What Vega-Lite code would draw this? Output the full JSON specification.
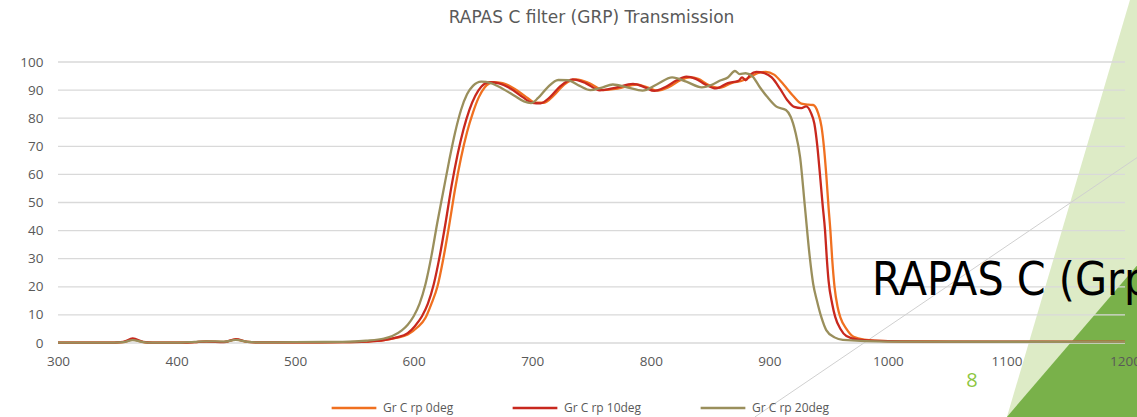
{
  "$schema": "https://vega.github.io/schema/vega-lite/v6.json",
  "autosize": {"type": "none"},
  "width": 1067,
  "height": 281,
  "padding": {"left": 58, "top": 62, "right": 12, "bottom": 74},
  "background": "white",
  "title": {"text": "RAPAS C filter (GRP) Transmission", "frame": "group", "fontSize": 17, "font": "DejaVu Sans", "fontWeight": "normal", "color": "#595959", "offset": -27, "anchor": "middle"},
  "config": {
    "view": {"stroke": null},
    "font": "Open Sans",
    "axis": {"labelFontSize": 13.5, "labelColor": "#595959", "labelFont": "Open Sans", "grid": false, "domain": false, "ticks": false, "labelOverlap": false, "title": null, "zindex": 1}
  },
  "datasets": {
    "deco_light": [{"T": 122.1, "wl": 1204.2, "wl2": 1212}, {"T": -26.3, "wl": 1100.4, "wl2": 1212}],
    "deco_dark": [{"T": -26.3, "wl": 1100.4, "wl2": 1212}, {"T": 28.5, "wl": 1212, "wl2": 1212}],
    "deco_line": [{"wl": 887.9, "T": -26.3}, {"wl": 1212, "T": 66.5}],
    "deco_text": [{"wl": 986.5, "T": 22.2, "label": "RAPAS C (Grp)"}],
    "deco_num": [{"wl": 1071, "T": -13.5, "label": "8"}],
    "gridv": [{"T": 0}, {"T": 10}, {"T": 20}, {"T": 30}, {"T": 40}, {"T": 50}, {"T": 60}, {"T": 70}, {"T": 80}, {"T": 90}, {"T": 100}],
    "curves": [
      {"series": "Gr C rp 0deg", "wl": 300, "T": 0.1},
      {"series": "Gr C rp 0deg", "wl": 340, "T": 0.1},
      {"series": "Gr C rp 0deg", "wl": 355, "T": 0.3},
      {"series": "Gr C rp 0deg", "wl": 363, "T": 1.2},
      {"series": "Gr C rp 0deg", "wl": 372, "T": 0.3},
      {"series": "Gr C rp 0deg", "wl": 380, "T": 0.1},
      {"series": "Gr C rp 0deg", "wl": 400, "T": 0.1},
      {"series": "Gr C rp 0deg", "wl": 415, "T": 0.3},
      {"series": "Gr C rp 0deg", "wl": 425, "T": 0.6},
      {"series": "Gr C rp 0deg", "wl": 440, "T": 0.4},
      {"series": "Gr C rp 0deg", "wl": 450, "T": 1.2},
      {"series": "Gr C rp 0deg", "wl": 460, "T": 0.4},
      {"series": "Gr C rp 0deg", "wl": 470, "T": 0.2},
      {"series": "Gr C rp 0deg", "wl": 500, "T": 0.2},
      {"series": "Gr C rp 0deg", "wl": 540, "T": 0.3},
      {"series": "Gr C rp 0deg", "wl": 560, "T": 0.5},
      {"series": "Gr C rp 0deg", "wl": 575, "T": 1.0},
      {"series": "Gr C rp 0deg", "wl": 585, "T": 1.8},
      {"series": "Gr C rp 0deg", "wl": 595, "T": 3.0},
      {"series": "Gr C rp 0deg", "wl": 603, "T": 5.5},
      {"series": "Gr C rp 0deg", "wl": 610, "T": 9},
      {"series": "Gr C rp 0deg", "wl": 615, "T": 14},
      {"series": "Gr C rp 0deg", "wl": 620, "T": 20},
      {"series": "Gr C rp 0deg", "wl": 625, "T": 30},
      {"series": "Gr C rp 0deg", "wl": 630, "T": 42},
      {"series": "Gr C rp 0deg", "wl": 635, "T": 55},
      {"series": "Gr C rp 0deg", "wl": 640, "T": 66},
      {"series": "Gr C rp 0deg", "wl": 645, "T": 75},
      {"series": "Gr C rp 0deg", "wl": 650, "T": 82},
      {"series": "Gr C rp 0deg", "wl": 655, "T": 87.5},
      {"series": "Gr C rp 0deg", "wl": 660, "T": 91},
      {"series": "Gr C rp 0deg", "wl": 667, "T": 92.8},
      {"series": "Gr C rp 0deg", "wl": 675, "T": 92.5},
      {"series": "Gr C rp 0deg", "wl": 685, "T": 90.5},
      {"series": "Gr C rp 0deg", "wl": 695, "T": 87.5},
      {"series": "Gr C rp 0deg", "wl": 703, "T": 85.5},
      {"series": "Gr C rp 0deg", "wl": 710, "T": 85.5},
      {"series": "Gr C rp 0deg", "wl": 718, "T": 88},
      {"series": "Gr C rp 0deg", "wl": 727, "T": 92},
      {"series": "Gr C rp 0deg", "wl": 737, "T": 93.8},
      {"series": "Gr C rp 0deg", "wl": 748, "T": 92.5},
      {"series": "Gr C rp 0deg", "wl": 760, "T": 90},
      {"series": "Gr C rp 0deg", "wl": 772, "T": 90.5},
      {"series": "Gr C rp 0deg", "wl": 788, "T": 92},
      {"series": "Gr C rp 0deg", "wl": 797, "T": 91},
      {"series": "Gr C rp 0deg", "wl": 806, "T": 89.8},
      {"series": "Gr C rp 0deg", "wl": 815, "T": 91},
      {"series": "Gr C rp 0deg", "wl": 825, "T": 93.5},
      {"series": "Gr C rp 0deg", "wl": 833, "T": 94.5},
      {"series": "Gr C rp 0deg", "wl": 840, "T": 94},
      {"series": "Gr C rp 0deg", "wl": 848, "T": 92},
      {"series": "Gr C rp 0deg", "wl": 858, "T": 90.8},
      {"series": "Gr C rp 0deg", "wl": 868, "T": 92.5},
      {"series": "Gr C rp 0deg", "wl": 878, "T": 93.5},
      {"series": "Gr C rp 0deg", "wl": 883, "T": 94.5},
      {"series": "Gr C rp 0deg", "wl": 890, "T": 96},
      {"series": "Gr C rp 0deg", "wl": 897, "T": 96.5},
      {"series": "Gr C rp 0deg", "wl": 904, "T": 95.5},
      {"series": "Gr C rp 0deg", "wl": 912, "T": 92},
      {"series": "Gr C rp 0deg", "wl": 920, "T": 88},
      {"series": "Gr C rp 0deg", "wl": 927, "T": 85.2},
      {"series": "Gr C rp 0deg", "wl": 933, "T": 84.8},
      {"series": "Gr C rp 0deg", "wl": 937, "T": 84.7},
      {"series": "Gr C rp 0deg", "wl": 941, "T": 82},
      {"series": "Gr C rp 0deg", "wl": 944, "T": 77},
      {"series": "Gr C rp 0deg", "wl": 946, "T": 70},
      {"series": "Gr C rp 0deg", "wl": 948, "T": 60},
      {"series": "Gr C rp 0deg", "wl": 950, "T": 48},
      {"series": "Gr C rp 0deg", "wl": 951.5, "T": 40},
      {"series": "Gr C rp 0deg", "wl": 953, "T": 30},
      {"series": "Gr C rp 0deg", "wl": 955, "T": 20},
      {"series": "Gr C rp 0deg", "wl": 957.5, "T": 13},
      {"series": "Gr C rp 0deg", "wl": 960, "T": 9},
      {"series": "Gr C rp 0deg", "wl": 965, "T": 5},
      {"series": "Gr C rp 0deg", "wl": 971, "T": 2.2},
      {"series": "Gr C rp 0deg", "wl": 980, "T": 1.2},
      {"series": "Gr C rp 0deg", "wl": 1000, "T": 0.7},
      {"series": "Gr C rp 0deg", "wl": 1050, "T": 0.5},
      {"series": "Gr C rp 0deg", "wl": 1100, "T": 0.4},
      {"series": "Gr C rp 0deg", "wl": 1200, "T": 0.4},

      {"series": "Gr C rp 10deg", "wl": 300, "T": 0.1},
      {"series": "Gr C rp 10deg", "wl": 340, "T": 0.1},
      {"series": "Gr C rp 10deg", "wl": 355, "T": 0.4},
      {"series": "Gr C rp 10deg", "wl": 363, "T": 1.6},
      {"series": "Gr C rp 10deg", "wl": 372, "T": 0.4},
      {"series": "Gr C rp 10deg", "wl": 380, "T": 0.1},
      {"series": "Gr C rp 10deg", "wl": 400, "T": 0.1},
      {"series": "Gr C rp 10deg", "wl": 415, "T": 0.3},
      {"series": "Gr C rp 10deg", "wl": 425, "T": 0.5},
      {"series": "Gr C rp 10deg", "wl": 440, "T": 0.3},
      {"series": "Gr C rp 10deg", "wl": 450, "T": 1.4},
      {"series": "Gr C rp 10deg", "wl": 460, "T": 0.4},
      {"series": "Gr C rp 10deg", "wl": 470, "T": 0.2},
      {"series": "Gr C rp 10deg", "wl": 500, "T": 0.2},
      {"series": "Gr C rp 10deg", "wl": 540, "T": 0.3},
      {"series": "Gr C rp 10deg", "wl": 560, "T": 0.5},
      {"series": "Gr C rp 10deg", "wl": 575, "T": 1.0},
      {"series": "Gr C rp 10deg", "wl": 585, "T": 1.9},
      {"series": "Gr C rp 10deg", "wl": 595, "T": 3.5},
      {"series": "Gr C rp 10deg", "wl": 601, "T": 6},
      {"series": "Gr C rp 10deg", "wl": 607, "T": 9.5},
      {"series": "Gr C rp 10deg", "wl": 612, "T": 14},
      {"series": "Gr C rp 10deg", "wl": 617, "T": 21},
      {"series": "Gr C rp 10deg", "wl": 622, "T": 31},
      {"series": "Gr C rp 10deg", "wl": 627, "T": 43},
      {"series": "Gr C rp 10deg", "wl": 632, "T": 56},
      {"series": "Gr C rp 10deg", "wl": 637, "T": 67},
      {"series": "Gr C rp 10deg", "wl": 642, "T": 76},
      {"series": "Gr C rp 10deg", "wl": 647, "T": 83},
      {"series": "Gr C rp 10deg", "wl": 652, "T": 88},
      {"series": "Gr C rp 10deg", "wl": 657, "T": 91.2},
      {"series": "Gr C rp 10deg", "wl": 664, "T": 92.8},
      {"series": "Gr C rp 10deg", "wl": 672, "T": 92.4},
      {"series": "Gr C rp 10deg", "wl": 682, "T": 90.5},
      {"series": "Gr C rp 10deg", "wl": 692, "T": 87.5},
      {"series": "Gr C rp 10deg", "wl": 700, "T": 85.5},
      {"series": "Gr C rp 10deg", "wl": 707, "T": 85.3},
      {"series": "Gr C rp 10deg", "wl": 715, "T": 87.5},
      {"series": "Gr C rp 10deg", "wl": 724, "T": 91.5},
      {"series": "Gr C rp 10deg", "wl": 734, "T": 93.8},
      {"series": "Gr C rp 10deg", "wl": 745, "T": 92.5},
      {"series": "Gr C rp 10deg", "wl": 757, "T": 89.9},
      {"series": "Gr C rp 10deg", "wl": 770, "T": 90.8},
      {"series": "Gr C rp 10deg", "wl": 785, "T": 92.2},
      {"series": "Gr C rp 10deg", "wl": 795, "T": 91},
      {"series": "Gr C rp 10deg", "wl": 803, "T": 89.7},
      {"series": "Gr C rp 10deg", "wl": 812, "T": 91},
      {"series": "Gr C rp 10deg", "wl": 822, "T": 93.5},
      {"series": "Gr C rp 10deg", "wl": 830, "T": 94.8},
      {"series": "Gr C rp 10deg", "wl": 838, "T": 94},
      {"series": "Gr C rp 10deg", "wl": 846, "T": 92},
      {"series": "Gr C rp 10deg", "wl": 855, "T": 90.6},
      {"series": "Gr C rp 10deg", "wl": 865, "T": 92.5},
      {"series": "Gr C rp 10deg", "wl": 874, "T": 93.3},
      {"series": "Gr C rp 10deg", "wl": 877, "T": 94.5},
      {"series": "Gr C rp 10deg", "wl": 880, "T": 93.5},
      {"series": "Gr C rp 10deg", "wl": 884, "T": 95.5},
      {"series": "Gr C rp 10deg", "wl": 889, "T": 96.5},
      {"series": "Gr C rp 10deg", "wl": 896, "T": 96},
      {"series": "Gr C rp 10deg", "wl": 902, "T": 94.5},
      {"series": "Gr C rp 10deg", "wl": 909, "T": 90.5},
      {"series": "Gr C rp 10deg", "wl": 915, "T": 86.5},
      {"series": "Gr C rp 10deg", "wl": 921, "T": 84},
      {"series": "Gr C rp 10deg", "wl": 927, "T": 83.6},
      {"series": "Gr C rp 10deg", "wl": 931, "T": 84.2},
      {"series": "Gr C rp 10deg", "wl": 935, "T": 82},
      {"series": "Gr C rp 10deg", "wl": 938, "T": 78},
      {"series": "Gr C rp 10deg", "wl": 940.5, "T": 70},
      {"series": "Gr C rp 10deg", "wl": 942.7, "T": 60},
      {"series": "Gr C rp 10deg", "wl": 945, "T": 49},
      {"series": "Gr C rp 10deg", "wl": 947, "T": 40},
      {"series": "Gr C rp 10deg", "wl": 948.5, "T": 30},
      {"series": "Gr C rp 10deg", "wl": 950, "T": 22},
      {"series": "Gr C rp 10deg", "wl": 953, "T": 14},
      {"series": "Gr C rp 10deg", "wl": 955.5, "T": 9.4},
      {"series": "Gr C rp 10deg", "wl": 960, "T": 5},
      {"series": "Gr C rp 10deg", "wl": 965, "T": 2.5},
      {"series": "Gr C rp 10deg", "wl": 975, "T": 1.2},
      {"series": "Gr C rp 10deg", "wl": 1000, "T": 0.7},
      {"series": "Gr C rp 10deg", "wl": 1050, "T": 0.5},
      {"series": "Gr C rp 10deg", "wl": 1200, "T": 0.4},

      {"series": "Gr C rp 20deg", "wl": 300, "T": 0.1},
      {"series": "Gr C rp 20deg", "wl": 340, "T": 0.1},
      {"series": "Gr C rp 20deg", "wl": 355, "T": 0.3},
      {"series": "Gr C rp 20deg", "wl": 363, "T": 1.0},
      {"series": "Gr C rp 20deg", "wl": 372, "T": 0.3},
      {"series": "Gr C rp 20deg", "wl": 380, "T": 0.1},
      {"series": "Gr C rp 20deg", "wl": 400, "T": 0.1},
      {"series": "Gr C rp 20deg", "wl": 415, "T": 0.4},
      {"series": "Gr C rp 20deg", "wl": 425, "T": 0.6},
      {"series": "Gr C rp 20deg", "wl": 440, "T": 0.5},
      {"series": "Gr C rp 20deg", "wl": 450, "T": 1.1},
      {"series": "Gr C rp 20deg", "wl": 460, "T": 0.4},
      {"series": "Gr C rp 20deg", "wl": 470, "T": 0.2},
      {"series": "Gr C rp 20deg", "wl": 500, "T": 0.3},
      {"series": "Gr C rp 20deg", "wl": 540, "T": 0.4},
      {"series": "Gr C rp 20deg", "wl": 560, "T": 0.8},
      {"series": "Gr C rp 20deg", "wl": 575, "T": 1.6},
      {"series": "Gr C rp 20deg", "wl": 582, "T": 2.5},
      {"series": "Gr C rp 20deg", "wl": 590, "T": 4.5},
      {"series": "Gr C rp 20deg", "wl": 595, "T": 6.5},
      {"series": "Gr C rp 20deg", "wl": 600, "T": 9.5},
      {"series": "Gr C rp 20deg", "wl": 605, "T": 14},
      {"series": "Gr C rp 20deg", "wl": 610, "T": 21},
      {"series": "Gr C rp 20deg", "wl": 615, "T": 31},
      {"series": "Gr C rp 20deg", "wl": 620, "T": 43},
      {"series": "Gr C rp 20deg", "wl": 625, "T": 54},
      {"series": "Gr C rp 20deg", "wl": 630, "T": 65},
      {"series": "Gr C rp 20deg", "wl": 635, "T": 75},
      {"series": "Gr C rp 20deg", "wl": 640, "T": 83},
      {"series": "Gr C rp 20deg", "wl": 645, "T": 88.5},
      {"series": "Gr C rp 20deg", "wl": 650, "T": 91.5},
      {"series": "Gr C rp 20deg", "wl": 657, "T": 93},
      {"series": "Gr C rp 20deg", "wl": 665, "T": 92.5},
      {"series": "Gr C rp 20deg", "wl": 675, "T": 90.5},
      {"series": "Gr C rp 20deg", "wl": 685, "T": 88},
      {"series": "Gr C rp 20deg", "wl": 693, "T": 86},
      {"series": "Gr C rp 20deg", "wl": 699, "T": 85.4},
      {"series": "Gr C rp 20deg", "wl": 705, "T": 87.2},
      {"series": "Gr C rp 20deg", "wl": 713, "T": 91},
      {"series": "Gr C rp 20deg", "wl": 722, "T": 93.6},
      {"series": "Gr C rp 20deg", "wl": 730, "T": 93.5},
      {"series": "Gr C rp 20deg", "wl": 740, "T": 91.5},
      {"series": "Gr C rp 20deg", "wl": 749, "T": 90},
      {"series": "Gr C rp 20deg", "wl": 758, "T": 90.8},
      {"series": "Gr C rp 20deg", "wl": 768, "T": 92},
      {"series": "Gr C rp 20deg", "wl": 780, "T": 91},
      {"series": "Gr C rp 20deg", "wl": 793, "T": 89.8},
      {"series": "Gr C rp 20deg", "wl": 805, "T": 92},
      {"series": "Gr C rp 20deg", "wl": 818, "T": 94.5},
      {"series": "Gr C rp 20deg", "wl": 830, "T": 93},
      {"series": "Gr C rp 20deg", "wl": 843, "T": 91},
      {"series": "Gr C rp 20deg", "wl": 852, "T": 92},
      {"series": "Gr C rp 20deg", "wl": 858, "T": 93.3},
      {"series": "Gr C rp 20deg", "wl": 865, "T": 94.5},
      {"series": "Gr C rp 20deg", "wl": 871, "T": 96.8},
      {"series": "Gr C rp 20deg", "wl": 875, "T": 95.7},
      {"series": "Gr C rp 20deg", "wl": 880, "T": 96},
      {"series": "Gr C rp 20deg", "wl": 886, "T": 94.8},
      {"series": "Gr C rp 20deg", "wl": 892, "T": 91},
      {"series": "Gr C rp 20deg", "wl": 898, "T": 87.7},
      {"series": "Gr C rp 20deg", "wl": 906, "T": 84.1},
      {"series": "Gr C rp 20deg", "wl": 914, "T": 82.9},
      {"series": "Gr C rp 20deg", "wl": 918, "T": 80.5},
      {"series": "Gr C rp 20deg", "wl": 922, "T": 75},
      {"series": "Gr C rp 20deg", "wl": 926, "T": 66},
      {"series": "Gr C rp 20deg", "wl": 930, "T": 48.5},
      {"series": "Gr C rp 20deg", "wl": 934, "T": 31},
      {"series": "Gr C rp 20deg", "wl": 937, "T": 21},
      {"series": "Gr C rp 20deg", "wl": 940, "T": 15.3},
      {"series": "Gr C rp 20deg", "wl": 944, "T": 9},
      {"series": "Gr C rp 20deg", "wl": 948, "T": 4.6},
      {"series": "Gr C rp 20deg", "wl": 955, "T": 2},
      {"series": "Gr C rp 20deg", "wl": 962, "T": 1.1},
      {"series": "Gr C rp 20deg", "wl": 1000, "T": 0.5},
      {"series": "Gr C rp 20deg", "wl": 1200, "T": 0.4}
    ]
  },
  "encoding": {
    "x": {"field": "wl", "type": "quantitative", "title": null,
      "scale": {"domain": [300, 1200], "nice": false, "zero": false},
      "axis": {"values": [300, 400, 500, 600, 700, 800, 900, 1000, 1100, 1200], "labelOverlap": false, "labelPadding": 11, "labelFlush": false, "format": "d", "zindex": 1}},
    "y": {"field": "T", "type": "quantitative", "title": null,
      "scale": {"domain": [0, 100], "nice": false, "zero": false},
      "axis": {"values": [0, 10, 20, 30, 40, 50, 60, 70, 80, 90, 100], "tickCount": 11, "labelOverlap": false, "labelPadding": 15, "format": "d", "zindex": 1}}
  },
  "layer": [
    {
      "data": {"name": "deco_light"},
      "mark": {"type": "area", "orient": "horizontal", "color": "#DDEBC6", "clip": false},
      "encoding": {
        "x": {"field": "wl", "type": "quantitative", "stack": null},
        "x2": {"field": "wl2"}
      }
    },
    {
      "data": {"name": "deco_dark"},
      "mark": {"type": "area", "orient": "horizontal", "color": "#79B14A", "clip": false},
      "encoding": {
        "x": {"field": "wl", "type": "quantitative", "stack": null},
        "x2": {"field": "wl2"}
      }
    },
    {
      "data": {"name": "gridv"},
      "mark": {"type": "rule", "color": "#D9D9D9", "strokeWidth": 1.3},
      "encoding": {"x": {"value": 0}, "x2": {"value": 1067}}
    },
    {
      "data": {"name": "deco_line"},
      "mark": {"type": "line", "color": "#D0D0D0", "strokeWidth": 1, "clip": false},
      "encoding": {}
    },
    {
      "data": {"name": "curves"},
      "mark": {"type": "line", "strokeWidth": 2.3, "interpolate": "monotone"},
      "encoding": {
        "color": {"field": "series", "type": "nominal", "title": null,
          "scale": {"domain": ["Gr C rp 0deg", "Gr C rp 10deg", "Gr C rp 20deg"], "range": ["#F07020", "#C8281E", "#9A8F5C"]},
          "legend": {"orient": "none", "direction": "horizontal", "legendX": 272, "legendY": 322, "symbolType": "stroke", "symbolSize": 2000, "symbolStrokeWidth": 2.5, "labelFontSize": 12, "labelColor": "#595959", "labelFont": "Open Sans", "columnPadding": 53, "labelOffset": 5}}
      }
    },
    {
      "data": {"name": "deco_text"},
      "mark": {"type": "text", "align": "left", "baseline": "middle", "fontSize": 46, "font": "Liberation Sans Narrow, DejaVu Sans Condensed, Roboto Condensed, Liberation Sans", "color": "#000000", "clip": false},
      "encoding": {"text": {"field": "label"}}
    },
    {
      "data": {"name": "deco_num"},
      "mark": {"type": "text", "align": "center", "baseline": "middle", "fontSize": 20, "font": "Open Sans", "color": "#8DC63F", "clip": false},
      "encoding": {"text": {"field": "label"}}
    }
  ]
}
